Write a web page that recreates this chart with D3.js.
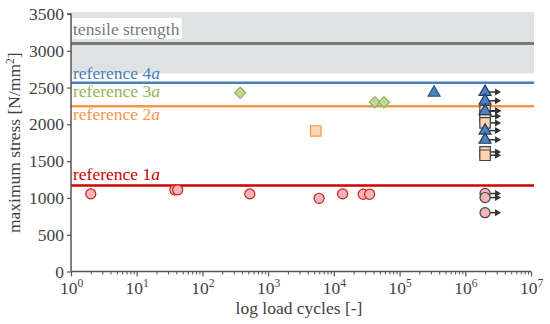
<!DOCTYPE html>
<html>
<head>
<meta charset="utf-8">
<script src="https://cdn.jsdelivr.net/npm/d3@7"></script>
<style>
  body { margin: 0; background: #fff; }
  svg { display: block; }
  text { font-family: "Liberation Serif", "Times New Roman", serif; }
</style>
</head>
<body>
<svg id="chart" width="550" height="324"></svg>
<script>
// reference levels [N/mm2]
let tensileStrength = 3100;
let bandRange = [2690, 3525];
let refLevels = [
  { name: "1", value: 1170, color: "#cc0000" },
  { name: "2", value: 2245, color: "#f79646" },
  { name: "3", value: 2400, color: "#8fb654" },
  { name: "4", value: 2565, color: "#4a7ebb" }
];

// failures: [cycles, stress]
let ref1Failures = [[2, 1055], [38, 1110], [42, 1110], [525, 1055], [5950, 995], [13600, 1055], [28000, 1050], [35000, 1050]];
let ref2Failures = [[5300, 1910]];
let ref3Failures = [[375, 2430], [42000, 2300], [58000, 2300]];
let ref4Failures = [[335000, 2430]];

// run-outs at 2e6 cycles: [cycles, stress]
let ref1Runouts = [[2e6, 1060], [2e6, 1005], [2e6, 800]];
let ref2Runouts = [[2e6, 2185], [2e6, 2110], [2e6, 2020], [2e6, 1625], [2e6, 1580]];
let ref4Runouts = [[2e6, 2440], [2e6, 2320], [2e6, 2180], [2e6, 1915], [2e6, 1790]];

let yTicks = [0, 500, 1000, 1500, 2000, 2500, 3000, 3500];
let xTicks = [1, 10, 100, 1e3, 1e4, 1e5, 1e6, 1e7];

let svg = d3.select("#chart");
let axisColor = "#555";
let textColor = "#3f3f3f";
let fontSize = 17.5;

let x = d3.scaleLog().domain([1, 1e7]).range([71, 531]);
let y = d3.scaleLinear().domain([0, 3500]).range([271.5, 14]);

// grey band above reference 4a
svg.append("rect").
attr("x", x(1)).
attr("y", y(bandRange[1])).
attr("width", x(1e7) - x(1) + 3).
attr("height", y(bandRange[0]) - y(bandRange[1])).
attr("fill", "#dfe2e2");

// tensile strength line
svg.append("line").
attr("x1", x(1)).attr("x2", x(1e7) + 3).
attr("y1", y(tensileStrength)).attr("y2", y(tensileStrength)).
attr("stroke", "#7a7a7a").
attr("stroke-width", 3);

// label with white background sized to the text
let tsBox = svg.append("rect").attr("fill", "#fff");
let tsText = svg.append("text").
attr("x", 73).attr("y", 35).
attr("font-size", fontSize).
attr("fill", "#7a7a7a").
text("tensile strength");
let bb = tsText.node().getBBox();
tsBox.attr("x", 72).attr("y", 18).
attr("width", bb.x + bb.width - 72 + 2).
attr("height", 21);

// reference lines
refLevels.filter(d => d.name != "3").forEach(d => {
  svg.append("line").
  attr("x1", x(1)).attr("x2", x(1e7) + 3).
  attr("y1", y(d.value)).attr("y2", y(d.value)).
  attr("stroke", d.color).
  attr("stroke-width", 2.5);
});

let labelY = { "1": 180, "2": 120, "3": 97, "4": 78.5 };
refLevels.forEach(d => {
  let t = svg.append("text").
  attr("x", 73).attr("y", labelY[d.name]).
  attr("font-size", fontSize).
  attr("fill", d.color);
  t.append("tspan").text("reference " + d.name);
  t.append("tspan").attr("font-style", "italic").text("a");
});

// axes
let yAxis = d3.axisLeft(y).tickValues(yTicks).tickSize(4).tickPadding(3).tickFormat(d3.format("d"));
let gy = svg.append("g").attr("transform", `translate(${x(1)},0)`).call(yAxis);
gy.select(".domain").attr("stroke", axisColor).attr("stroke-width", 1.5).attr("d", `M-4,${y(3500)}H0V${y(0)}`);
gy.selectAll(".tick line").attr("stroke", axisColor).attr("stroke-width", 1.2);
gy.selectAll(".tick text").
attr("font-family", "Liberation Serif, serif").
attr("font-size", fontSize).
attr("fill", textColor);

let minorTicks = [];
for (let e = 0; e < 7; e++) {
  for (let m = 2; m <= 9; m++) minorTicks.push(m * Math.pow(10, e));
}
let gxMinor = svg.append("g").attr("transform", `translate(0,${y(0)})`).
call(d3.axisBottom(x).tickValues(minorTicks).tickSize(3).tickFormat(""));
gxMinor.select(".domain").remove();
gxMinor.selectAll(".tick line").attr("stroke", axisColor);

let xAxis = d3.axisBottom(x).tickValues(xTicks).tickSize(5).tickPadding(4).tickFormat("");
let gx = svg.append("g").attr("transform", `translate(0,${y(0)})`).call(xAxis);
gx.select(".domain").attr("stroke", axisColor).attr("stroke-width", 1.5).attr("d", `M${x(1)},0H${x(1e7)}`);
gx.selectAll(".tick line").attr("stroke", axisColor).attr("stroke-width", 1.2);

let xLab = gx.selectAll(".tick").append("text").
attr("y", 22).
attr("font-size", fontSize).
attr("fill", textColor).
attr("text-anchor", "middle");
xLab.append("tspan").text("10");
xLab.append("tspan").
attr("font-size", 11.5).
attr("dy", -6.5).
text(d => Math.round(Math.log10(d)));

// axis titles
svg.append("text").
attr("x", 299).attr("y", 314).
attr("text-anchor", "middle").
attr("font-size", fontSize).
attr("fill", textColor).
text("log load cycles [-]");

let yTitle = svg.append("text").
attr("transform", `translate(20,${(y(0) + y(3500)) / 2}) rotate(-90)`).
attr("text-anchor", "middle").
attr("font-size", fontSize).
attr("fill", textColor);
yTitle.append("tspan").text("maximum stress [N/mm");
yTitle.append("tspan").attr("font-size", 11.5).attr("dy", -6.5).text("2");
yTitle.append("tspan").attr("dy", 6.5).text("]");

// markers
let circle = d3.symbol(d3.symbolCircle, 80)();
let square = d3.symbol(d3.symbolSquare, 110)();
let diamond = d3.symbol(d3.symbolSquare, 62)();
let triangle = d3.symbol(d3.symbolTriangle, 62)();

function drawArrows(data) {
  let g = svg.append("g");
  data.forEach(d => {
    let cx = x(d[0]), cy = y(d[1]);
    g.append("line").
    attr("x1", cx).attr("x2", cx + 11).
    attr("y1", cy).attr("y2", cy).
    attr("stroke", "#333").attr("stroke-width", 1.5);
    g.append("path").
    attr("d", `M${cx + 10},${cy - 3.5}L${cx + 16},${cy}L${cx + 10},${cy + 3.5}Z`).
    attr("fill", "#333");
  });
}

function drawMarkers(data, shape, fill, stroke, rotate = 0) {
  svg.append("g").
  selectAll("path").
  data(data).
  enter().
  append("path").
  attr("d", shape).
  attr("transform", d => `translate(${x(d[0])},${y(d[1])}) rotate(${rotate})`).
  attr("fill", fill).
  attr("stroke", stroke).
  attr("stroke-width", 1.2);
}

drawArrows(ref2Runouts);
drawMarkers(ref2Runouts, square, "#fbd5b5", "#444");
drawArrows(ref4Runouts);
drawMarkers(ref4Runouts, triangle, "#4f81bd", "#1f3a60");
drawArrows(ref1Runouts);
drawMarkers(ref1Runouts, circle, "#f4b5b8", "#444");

drawMarkers(ref1Failures, circle, "#f4b5b8", "#cc1f1f");
drawMarkers(ref2Failures, square, "#fbd5b5", "#f79646");
drawMarkers(ref3Failures, diamond, "#c3d69b", "#8fb654", 45);
drawMarkers(ref4Failures, triangle, "#4f81bd", "#2c5282");
</script>
</body>
</html>
